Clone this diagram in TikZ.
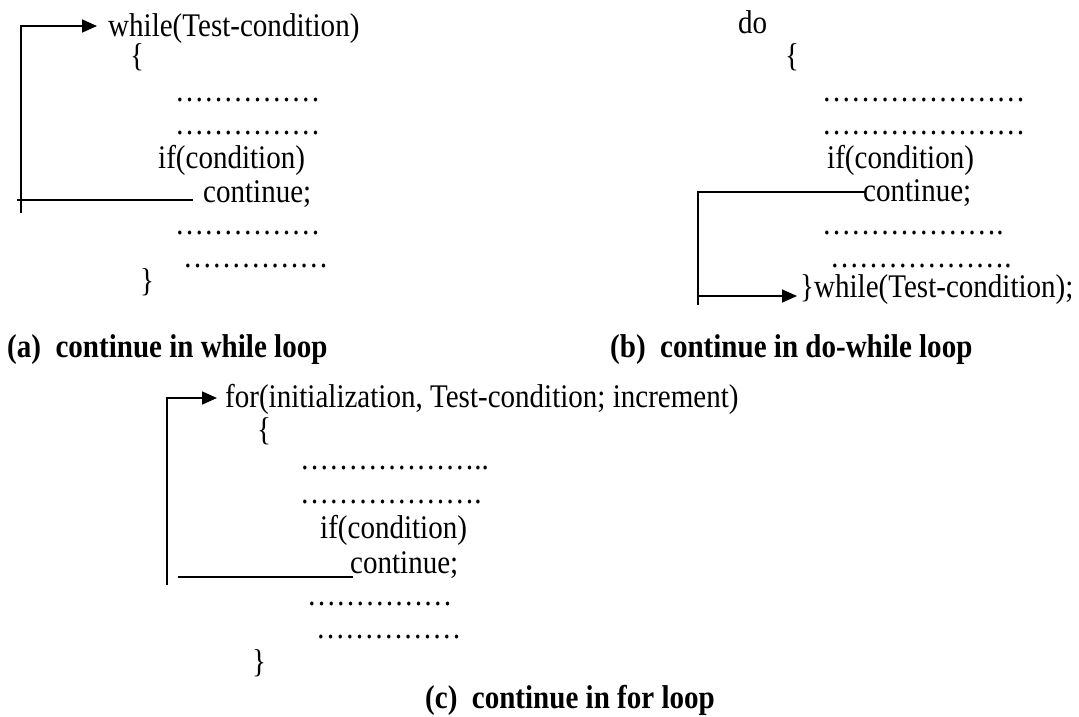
\documentclass[tikz,border=0pt]{standalone}
\usepackage{fontspec}
\setmainfont{Liberation Serif}[FakeStretch=0.88]
\usetikzlibrary{arrows.meta}
\tikzset{
  code/.style={anchor=base west, inner sep=0pt, font=\fontsize{33}{36}\selectfont},
  caption/.style={anchor=base west, inner sep=0pt, font=\fontsize{33}{36}\selectfont\bfseries},
  jump/.style={line width=1.7pt},
  jumparrow/.style={line width=1.7pt, -{Triangle[length=15pt,width=13pt]}},
}
\begin{document}
\begin{tikzpicture}[x=1pt,y=-1pt]
\useasboundingbox (0,0) rectangle (1079,716);

% ---- (a) while loop ----
\node[code] (wHead) at (108,36) {while(Test-condition)};
\node[code] (wOpen) at (130,66) {\{};
\node[code] (wD1) at (175,101) {……………};
\node[code] (wD2) at (175,134) {……………};
\node[code] (wIf) at (158,168) {if(condition)};
\node[code] (wCont) at (203,202) {continue;};
\node[code] (wD3) at (175,234) {……………};
\node[code] (wD4) at (183,267) {……………};
\node[code] (wClose) at (140,291) {\}};
\node[caption] (capA) at (7,357) {(a)\ \ continue in while loop};

\coordinate (wFrom) at (193,200);
\coordinate (wStub) at (17,200);
\coordinate (wLow) at (21,213);
\coordinate (wUp) at (21,26);
\coordinate (wTo) at (97,26);
\draw[jump] (wFrom) -- (wStub);
\draw[jumparrow] (wLow) -- (wUp) -- (wTo);

% ---- (b) do-while loop ----
\node[code] (dHead) at (738,33) {do};
\node[code] (dOpen) at (785,66) {\{};
\node[code] (dD1) at (822,101) {…………………};
\node[code] (dD2) at (822,134) {…………………};
\node[code] (dIf) at (827,168) {if(condition)};
\node[code] (dCont) at (863,201) {continue;};
\node[code] (dD3) at (822,234) {……………….};
\node[code] (dD4) at (830,267) {……………….};
\node[code] (dTail) at (800,297) {\}while(Test-condition);};
\node[caption] (capB) at (610,357) {(b)\ \ continue in do-while loop};

\coordinate (dFrom) at (865,192);
\coordinate (dCorner) at (698,192);
\coordinate (dLow) at (698,305);
\coordinate (dTo) at (797,296);
\draw[jump] (dFrom) -- (dCorner) -- (dLow);
\draw[jumparrow] (dCorner |- dTo) -- (dTo);

% ---- (c) for loop ----
\node[code] (fHead) at (225,407) {for(initialization, Test-condition; increment)};
\node[code] (fOpen) at (257,440) {\{};
\node[code] (fD1) at (300,469) {………………..};
\node[code] (fD2) at (300,503) {……………….};
\node[code] (fIf) at (320,538) {if(condition)};
\node[code] (fCont) at (350,573) {continue;};
\node[code] (fD3) at (307,605) {……………};
\node[code] (fD4) at (316,638) {……………};
\node[code] (fClose) at (252,672) {\}};
\node[caption] (capC) at (425,708) {(c)\ \ continue in for loop};

\coordinate (fFrom) at (353,577);
\coordinate (fStub) at (178,577);
\coordinate (fLow) at (167,585);
\coordinate (fUp) at (167,398);
\coordinate (fTo) at (217,398);
\draw[jump] (fFrom) -- (fStub);
\draw[jumparrow] (fLow) -- (fUp) -- (fTo);
\end{tikzpicture}
\end{document}
